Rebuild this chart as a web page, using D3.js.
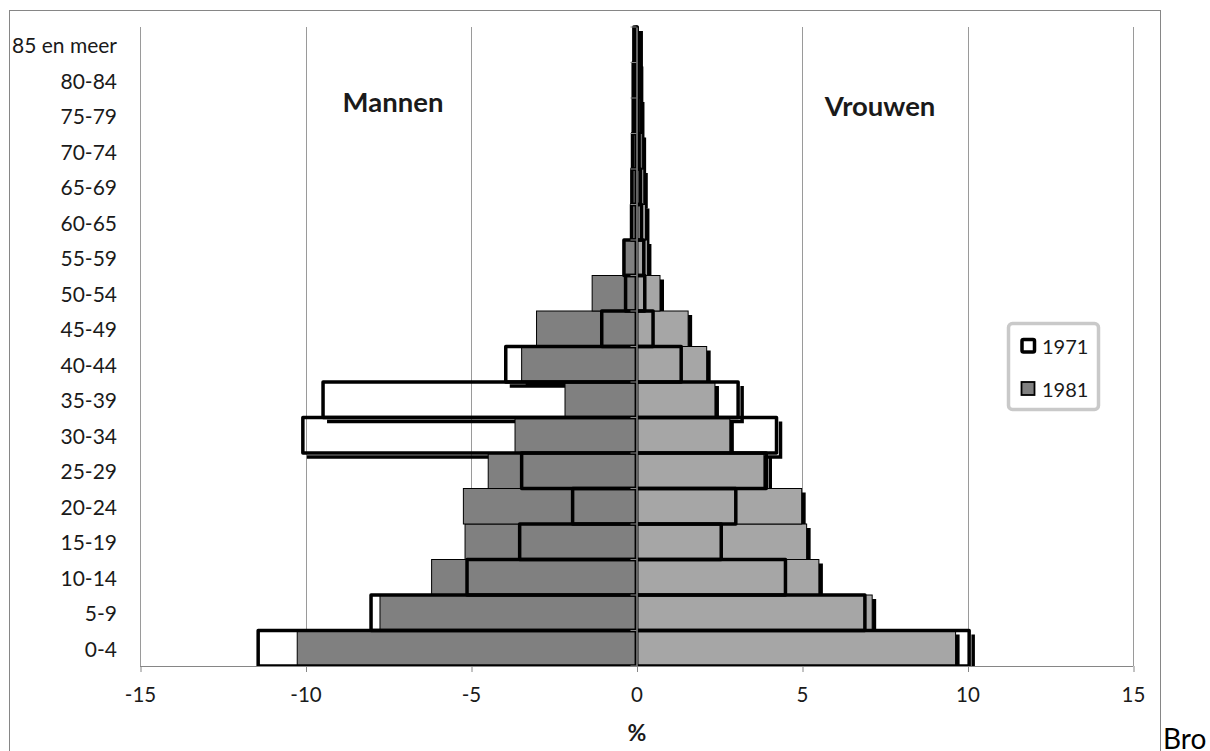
<!DOCTYPE html>
<html>
<head>
<meta charset="utf-8">
<script src="https://cdn.jsdelivr.net/npm/d3@7"></script>
<style>
  html, body { margin: 0; padding: 0; background: #fff; overflow: hidden; }
  svg { display: block; }
  text { font-family: Lato, "Open Sans", sans-serif; }
</style>
</head>
<body>
<svg id="chart" width="1210" height="751"></svg>
<script>
// Age groups, bottom (first) to top (last)
const categories = ["0-4","5-9","10-14","15-19","20-24","25-29","30-34","35-39","40-44","45-49","50-54","55-59","60-65","65-69","70-74","75-79","80-84","85 en meer"];
// Percentages (men plotted to the left)
const men1971   = [11.43, 8.02, 5.12, 3.53, 1.93, 3.47, 10.08, 9.47, 3.95, 1.05, 0.33, 0.38, 0.15, 0.14, 0.12, 0.10, 0.10, 0.08];
const men1981   = [10.25, 7.75, 6.19, 5.18, 5.23, 4.48, 3.67, 2.16, 3.47, 3.02, 1.34, 0.36, 0.14, 0.13, 0.11, 0.10, 0.09, 0.08];
const women1971 = [10.05, 6.90, 4.50, 2.56, 3.00, 3.92, 4.23, 3.07, 1.35, 0.50, 0.25, 0.22, 0.15, 0.12, 0.08, 0.05, 0.03, 0.02];
const women1981 = [9.64, 7.12, 5.51, 5.14, 4.99, 3.85, 2.82, 2.37, 2.12, 1.56, 0.71, 0.33, 0.27, 0.22, 0.17, 0.12, 0.08, 0.05];
const xTicks = [-15, -10, -5, 0, 5, 10, 15];
const seriesNames = ["1971", "1981"];
const sideLabels = ["Mannen", "Vrouwen"];
const axisTitle = "%";
const sourceText = "Bro";

const svg = d3.select("#chart");
const plot = {left: 140, right: 1133, top: 27, bottom: 666};

const x = d3.scaleLinear().domain([-15, 15]).range([plot.left, plot.right]);
const y = d3.scaleBand().domain(categories.slice().reverse()).range([plot.top, plot.bottom]).padding(0);

const menGrey = "#808080", womenGrey = "#a6a6a6";
const gridCol = "#9a9a9a", axisCol = "#868686";

// outer chart border
svg.append("rect").attr("x", 9.5).attr("y", 10.5).attr("width", 1151).attr("height", 780)
  .attr("fill", "none").attr("stroke", axisCol).attr("stroke-width", 1);

// gridlines
svg.append("g").selectAll("line").data(xTicks).join("line")
  .attr("x1", d => Math.round(x(d)) + 0.5).attr("x2", d => Math.round(x(d)) + 0.5)
  .attr("y1", plot.top).attr("y2", plot.bottom)
  .attr("stroke", gridCol).attr("stroke-width", 1);

svg.append("clipPath").attr("id", "plotclip").append("rect")
  .attr("x", plot.left).attr("y", plot.top - 2)
  .attr("width", plot.right - plot.left).attr("height", plot.bottom - plot.top + 2);

const rows = categories.map((c, i) => ({cat: c, m71: men1971[i], m81: men1981[i], w71: women1971[i], w81: women1981[i]}));

// bars: one entry per (row, side)
const bars = [];
rows.forEach(r => {
  bars.push({cat: r.cat, side: "m", grey: r.m81, outline: r.m71});
  bars.push({cat: r.cat, side: "w", grey: r.w81, outline: r.w71});
});
function ext(b, v) {
  const a = b.side === "m" ? x(-v) : x(0);
  const e = b.side === "m" ? x(0) : x(v);
  return [a, e];
}

const g = svg.append("g").attr("clip-path", "url(#plotclip)");
const off = 4;

// shadows first (drawn below everything)
const sh = g.append("g");
sh.selectAll("rect.gs").data(bars).join("rect")
  .attr("x", b => ext(b, b.grey)[0] + off)
  .attr("y", b => y(b.cat) + off)
  .attr("width", b => ext(b, b.grey)[1] - ext(b, b.grey)[0])
  .attr("height", y.bandwidth())
  .attr("fill", "#000");
sh.selectAll("path.os").data(bars).join("path")
  .attr("d", b => {
    const [a, e] = ext(b, b.outline);
    const t = y(b.cat) + off, bt = y(b.cat) + y.bandwidth() + off;
    return `M${a + off},${bt}L${e + off},${bt}L${e + off},${t}`;
  })
  .attr("fill", "none").attr("stroke", "#000").attr("stroke-width", 3.5);

// grey bars (1981)
g.append("g").selectAll("rect").data(bars).join("rect")
  .attr("x", b => ext(b, b.grey)[0])
  .attr("y", b => y(b.cat))
  .attr("width", b => ext(b, b.grey)[1] - ext(b, b.grey)[0])
  .attr("height", y.bandwidth())
  .attr("fill", b => b.side === "m" ? menGrey : womenGrey)
  .attr("stroke", "#000").attr("stroke-width", 1);

// outline bars (1971)
g.append("g").selectAll("rect").data(bars).join("rect")
  .attr("x", b => ext(b, b.outline)[0])
  .attr("y", b => y(b.cat))
  .attr("width", b => ext(b, b.outline)[1] - ext(b, b.outline)[0])
  .attr("height", y.bandwidth())
  .attr("fill", "none")
  .attr("stroke", "#000").attr("stroke-width", 3.5).attr("stroke-linejoin", "round");

// x axis
const xAxis = d3.axisBottom(x).tickValues(xTicks).tickSize(6).tickFormat(d => d < 0 ? "-" + Math.abs(d) : String(d));
const xg = svg.append("g").attr("transform", `translate(0,${plot.bottom})`).call(xAxis);
xg.select(".domain").attr("stroke", axisCol).attr("stroke-width", 1.2).attr("d", `M${plot.left},0.5H${plot.right}`);
xg.selectAll(".tick line").attr("stroke", axisCol).attr("transform", "translate(0.5,0)");
xg.selectAll(".tick text").attr("font-size", 20.5).attr("fill", "#1a1a1a").attr("dy", null).attr("y", 36)
  .attr("font-family", "Lato, sans-serif");

// y axis at zero
const yAxis = d3.axisLeft(y).tickSize(0).tickFormat("");
const yg = svg.append("g").attr("transform", `translate(${x(0)},0)`).call(yAxis);
yg.select(".domain").attr("stroke", axisCol).attr("stroke-width", 1.5);
const bounds = categories.map(c => y(c)).concat([plot.bottom]);
yg.selectAll("line.bt").data(bounds).join("line").attr("class", "bt")
  .attr("x1", -6).attr("x2", 0).attr("y1", d => d).attr("y2", d => d)
  .attr("stroke", axisCol).attr("stroke-width", 1);

// category labels
svg.append("g").selectAll("text").data(categories).join("text")
  .attr("x", 117).attr("y", d => y(d) + y.bandwidth() / 2)
  .attr("text-anchor", "end").attr("dominant-baseline", "central")
  .attr("font-size", 21).attr("fill", "#1a1a1a").text(d => d);

// side labels
svg.append("text").attr("x", 393).attr("y", 112).attr("text-anchor", "middle")
  .attr("font-size", 27.5).attr("font-weight", "bold").attr("fill", "#1a1a1a").text(sideLabels[0]);
svg.append("text").attr("x", 880).attr("y", 116).attr("text-anchor", "middle")
  .attr("font-size", 27.5).attr("font-weight", "bold").attr("fill", "#1a1a1a").text(sideLabels[1]);

// axis title
svg.append("text").attr("x", 637).attr("y", 741).attr("text-anchor", "middle")
  .attr("font-size", 23).attr("font-weight", "bold").attr("fill", "#1a1a1a").text(axisTitle);

// legend
const lg = svg.append("g");
lg.append("rect").attr("x", 1008.5).attr("y", 323.5).attr("width", 90).attr("height", 86).attr("rx", 4)
  .attr("fill", "#fff").attr("stroke", "#c9c9c9").attr("stroke-width", 3.5);
lg.append("rect").attr("x", 1022).attr("y", 339.5).attr("width", 12.5).attr("height", 12.5).attr("rx", 1.5)
  .attr("fill", "#fff").attr("stroke", "#000").attr("stroke-width", 3.5);
lg.append("rect").attr("x", 1021.5).attr("y", 382).attr("width", 13).attr("height", 13)
  .attr("fill", menGrey).attr("stroke", "#000").attr("stroke-width", 1.8);
lg.selectAll("text").data(seriesNames).join("text")
  .attr("x", 1042).attr("y", (d, i) => 346 + i * 43)
  .attr("dominant-baseline", "central").attr("font-size", 20).attr("fill", "#1a1a1a").text(d => d);

// source text (cut off at window edge, as in the original)
svg.append("text").attr("x", 1163).attr("y", 749).attr("font-family", "'Liberation Serif', 'Times New Roman', serif")
  .attr("font-size", 28).attr("fill", "#000").text(sourceText);
</script>
</body>
</html>
